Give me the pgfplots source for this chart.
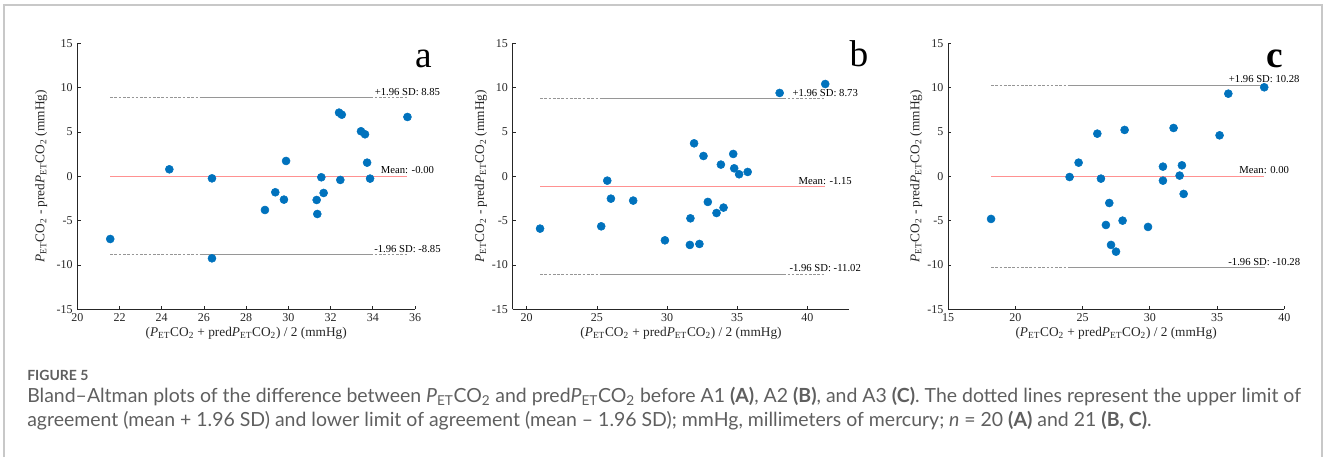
\documentclass[border=0pt]{standalone}
\usepackage{fontspec}
\setmainfont{Liberation Serif}
\newfontfamily\capfont{Lato}
\usepackage{pgfplots}
\pgfplotsset{compat=1.18}

\definecolor{mblue}{RGB}{0,114,189}
\definecolor{meanred}{RGB}{255,145,145}
\definecolor{sdgray}{RGB}{150,150,150}
\definecolor{axgray}{RGB}{38,38,38}
\definecolor{framegray}{RGB}{200,200,200}
\definecolor{capgray}{RGB}{95,95,95}

\newcommand{\pet}{\textit{P}\textsubscript{ET}CO\textsubscript{2}}

\tikzset{
  lab/.style={anchor=base, yshift=1.8pt, font=\fontsize{8}{9}\selectfont, text=black},
  pts/.style={only marks, mark=*, mark size=3pt, mark options={draw=mblue, fill=mblue}},
  meanl/.style={meanred, line width=0.6pt},
  sdd/.style={sdgray, line width=0.6pt, dash pattern=on 2pt off 1.2pt},
  sds/.style={sdgray, line width=0.6pt},
}

\pgfplotsset{
  ba/.style={
    scale only axis,
    anchor=south west,
    height=199.5pt,
    ymin=-15, ymax=15,
    ytick={-15,-10,...,15},
    axis x line*=bottom,
    axis y line*=left,
    tick align=inside,
    major tick length=2.5pt,
    axis line style={axgray, line width=0.5pt},
    tick style={axgray, line width=0.5pt},
    tick label style={font=\fontsize{9}{10}\selectfont, text=axgray},
    /pgf/number format/assume math mode=true,
    label style={font=\fontsize{10}{12}\selectfont, text=axgray},
    xlabel={(\pet{} + pred\pet) / 2 (mmHg)},
    ylabel={\pet{} - pred\pet{} (mmHg)},
    xlabel style={at={(axis description cs:0.5,-0.104)}, anchor=base},
    clip=false,
  },
}

\begin{document}
\begin{tikzpicture}
\path[use as bounding box] (0pt,0pt) rectangle (996pt,-342.75pt);
\begin{scope}[x=0.75pt, y=-0.75pt]
\draw[framegray, line width=0.8pt] (4,457) -- (4,5) -- (1322,5) -- (1322,457);
\coordinate (pa) at (77.3,309.3);
\coordinate (pb) at (512.7,309.3);
\coordinate (pc) at (948,309.3);
\node[anchor=base, font=\fontsize{28}{30}\selectfont] at (423.5,67) {a};
\node[anchor=base, font=\fontsize{28}{30}\selectfont] at (859,66) {b};
\node[anchor=base, font=\fontsize{28}{30}\selectfont\bfseries] at (1275,67) {c};
\begin{scope}[every node/.style={anchor=base west, inner sep=0pt, text=capgray}]
\node[font=\capfont\fontsize{10.5}{12}\selectfont\bfseries] at (27,380) {FIGURE 5};
\node[font=\capfont\fontsize{14.6}{16}\selectfont] at (27,402) {Bland–Altman plots of the difference between \pet{} and pred\pet{} before A1 \textbf{(A)}, A2 \textbf{(B)}, and A3 \textbf{(C)}. The dotted lines represent the upper limit of};
\node[font=\capfont\fontsize{14.6}{16}\selectfont] at (27,426) {agreement (mean + 1.96 SD) and lower limit of agreement (mean – 1.96 SD); mmHg, millimeters of mercury; \textit{n} = 20 \textbf{(A)} and 21 \textbf{(B, C)}.};
\end{scope}
\end{scope}

% panel a
\begin{axis}[ba, at={(pa)}, width=253.3pt,
  xmin=20, xmax=36, xtick={20,22,...,36},
  ylabel style={at={(axis description cs:-0.107,0.5)}, anchor=center}]
\addplot[sdd] coordinates {(21.56,8.85) (35.64,8.85)};
\addplot[sds] coordinates {(25.8,8.85) (33.95,8.85)};
\addplot[sdd] coordinates {(21.56,-8.85) (35.64,-8.85)};
\addplot[sds] coordinates {(25.8,-8.85) (33.95,-8.85)};
\addplot[meanl] coordinates {(21.56,0) (35.64,0)};
\addplot[pts] coordinates {
  (21.56,-7.07) (24.36,0.79) (26.38,-0.23) (26.38,-9.25) (28.89,-3.80)
  (29.38,-1.80) (29.79,-2.63) (29.89,1.73) (31.34,-2.67) (31.37,-4.25)
  (31.56,-0.11) (31.67,-1.88) (32.40,7.18) (32.53,6.95) (32.46,-0.41)
  (33.44,5.08) (33.63,4.74) (33.73,1.54) (33.87,-0.26) (35.64,6.69)};
\node[lab] at (axis cs:35.64,8.85) {+1.96 SD: 8.85};
\node[lab] at (axis cs:35.64,0) {Mean: -0.00};
\node[lab] at (axis cs:35.64,-8.85) {-1.96 SD: -8.85};
\end{axis}

% panel b
\begin{axis}[ba, at={(pb)}, width=252.5pt,
  xmin=19, xmax=43, xtick={20,25,...,40},
  ylabel style={at={(axis description cs:-0.094,0.5)}, anchor=center}]
\addplot[sdd] coordinates {(20.95,8.73) (41.28,8.73)};
\addplot[sds] coordinates {(25.22,8.73) (38.27,8.73)};
\addplot[sdd] coordinates {(20.95,-11.02) (41.28,-11.02)};
\addplot[sds] coordinates {(25.22,-11.02) (38.27,-11.02)};
\addplot[meanl] coordinates {(20.95,-1.15) (41.28,-1.15)};
\addplot[pts] coordinates {
  (20.95,-5.90) (25.31,-5.64) (25.74,-0.49) (26.00,-2.52) (27.59,-2.74)
  (29.85,-7.22) (31.67,-4.74) (31.63,-7.74) (32.31,-7.63) (31.93,3.72)
  (32.60,2.29) (32.91,-2.89) (33.53,-4.14) (34.03,-3.53) (33.84,1.32)
  (34.72,2.52) (34.79,0.90) (35.14,0.23) (35.75,0.49) (38.03,9.40)
  (41.28,10.41)};
\node[lab] at (axis cs:41.28,8.73) {+1.96 SD: 8.73};
\node[lab] at (axis cs:41.28,-1.15) {Mean: -1.15};
\node[lab] at (axis cs:41.28,-11.02) {-1.96 SD: -11.02};
\end{axis}

% panel c
\begin{axis}[ba, at={(pc)}, width=252.2pt,
  xmin=15, xmax=40, xtick={15,20,...,40},
  ylabel style={at={(axis description cs:-0.095,0.5)}, anchor=center}]
\addplot[sdd] coordinates {(18.20,10.28) (38.51,10.28)};
\addplot[sds] coordinates {(23.94,10.28) (38.51,10.28)};
\addplot[sdd] coordinates {(18.20,-10.28) (38.51,-10.28)};
\addplot[sds] coordinates {(23.94,-10.28) (38.51,-10.28)};
\addplot[meanl] coordinates {(18.20,0) (38.51,0)};
\addplot[pts] coordinates {
  (18.20,-4.81) (24.04,-0.08) (24.71,1.54) (26.10,4.81) (26.37,-0.26)
  (26.99,-3.01) (26.74,-5.49) (27.12,-7.74) (27.49,-8.50) (27.98,-5.00)
  (28.13,5.23) (29.87,-5.71) (30.98,1.09) (30.98,-0.49) (31.77,5.45)
  (32.22,0.08) (32.39,1.24) (32.52,-1.99) (35.19,4.62) (35.84,9.32)
  (38.51,10.04)};
\node[lab] at (axis cs:38.51,10.28) {+1.96 SD: 10.28};
\node[lab] at (axis cs:38.51,0) {Mean: 0.00};
\node[lab] at (axis cs:38.51,-10.28) {-1.96 SD: -10.28};
\end{axis}
\end{tikzpicture}
\end{document}
